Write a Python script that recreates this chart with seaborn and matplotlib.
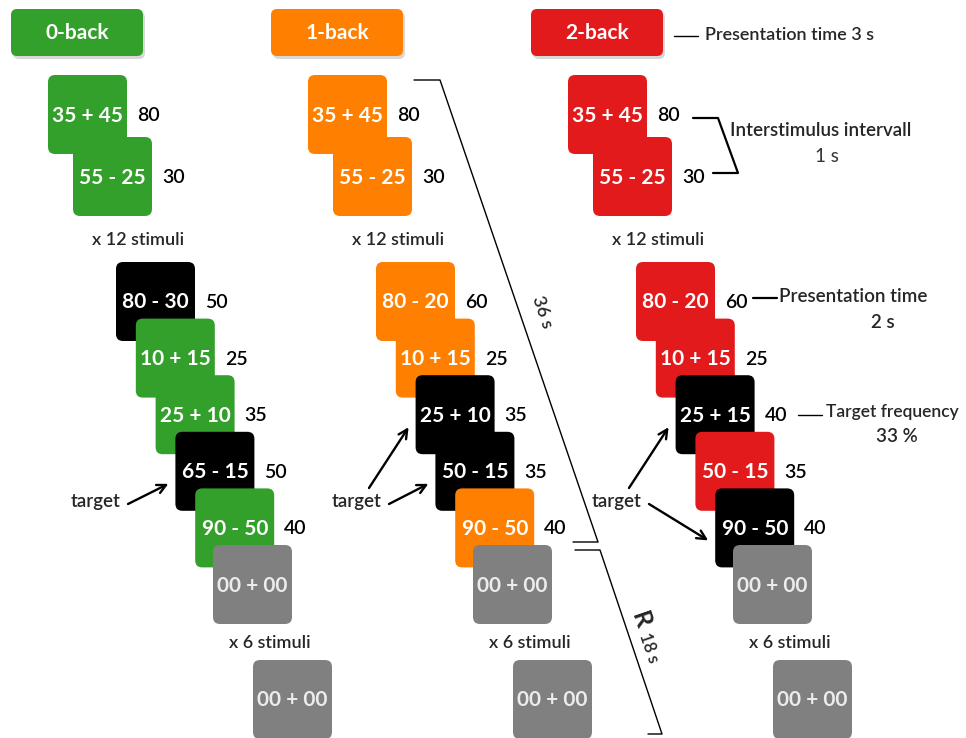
import matplotlib
matplotlib.use("Agg")
import matplotlib.pyplot as plt
import seaborn as sns
from matplotlib.patches import FancyBboxPatch

# task content
conditions = ["0-back", "1-back", "2-back"]
intro_stimuli = ["35 + 45", "55 - 25"]
intro_answers = ["80", "30"]
block_stimuli = [
    ["80 - 30", "10 + 15", "25 + 10", "65 - 15", "90 - 50"],
    ["80 - 20", "10 + 15", "25 + 10", "50 - 15", "90 - 50"],
    ["80 - 20", "10 + 15", "25 + 15", "50 - 15", "90 - 50"],
]
block_answers = [
    ["50", "25", "35", "50", "40"],
    ["60", "25", "35", "35", "40"],
    ["60", "25", "40", "35", "40"],
]
block_black = [
    [1, 0, 0, 1, 0],
    [0, 0, 1, 1, 0],
    [0, 0, 1, 0, 1],
]
target_cards = [[3], [2, 3], [2, 4]]
rest_stimulus = "00 + 00"
intro_count = "x 12 stimuli"
rest_count = "x 6 stimuli"

sns.set_theme(style="white")
plt.rcParams['font.family'] = ['Lato', 'DejaVu Sans']

palette = sns.color_palette("Paired")
cond_colors = [palette[3], palette[7], palette[5]]
gray = "#808080"

CARD = 79
COL = 260
W = "semibold"  # label weight (Calibri looks heavier than Lato regular)


def card(ax, x, y, color, label, answer=None, txt="white"):
    ax.add_patch(FancyBboxPatch((x, y), CARD, CARD,
                                boxstyle="round,pad=0,rounding_size=7",
                                fc=color, ec="none"))
    ax.text(x + CARD / 2, y + CARD / 2 + 1, label, color=txt, fontsize=15,
            fontweight="bold", ha="center", va="center")
    if answer is not None:
        ax.text(x + CARD + 10, y + CARD / 2 + 1, answer, color="black",
                fontsize=14, fontweight=W, ha="left", va="center")


fig = plt.figure(figsize=(9.66, 7.38), dpi=100)
ax = fig.add_axes([0, 0, 1, 1])
ax.set_xlim(0, 966)
ax.set_ylim(738, 0)
ax.axis("off")

for c, name in enumerate(conditions):
    x0 = c * COL
    col = cond_colors[c]

    # header box with a soft shadow
    ax.add_patch(FancyBboxPatch((x0 + 13, 12), 132, 47,
                                boxstyle="round,pad=0,rounding_size=6",
                                fc="#c8c8c8", ec="none", alpha=0.7))
    ax.add_patch(FancyBboxPatch((x0 + 11, 9), 132, 47,
                                boxstyle="round,pad=0,rounding_size=6",
                                fc=col, ec="none"))
    ax.text(x0 + 77, 33, name, color="white", fontsize=15, fontweight="bold",
            ha="center", va="center")

    # practice pair
    for i, (s, a) in enumerate(zip(intro_stimuli, intro_answers)):
        card(ax, x0 + 48 + 25 * i, 75 + 62 * i, col, s, a)
    ax.text(x0 + 138, 240, intro_count, fontsize=13, fontweight=W,
            ha="center", va="center")

    # block sequence
    for i, (s, a) in enumerate(zip(block_stimuli[c], block_answers[c])):
        fc = "black" if block_black[c][i] else col
        card(ax, x0 + 116 + 19.8 * i, 262 + 56.6 * i, fc, s, a)
    card(ax, x0 + 213, 545, gray, rest_stimulus, txt="#ececec")
    ax.text(x0 + 270, 643, rest_count, fontsize=13, fontweight=W,
            ha="center", va="center")
    card(ax, x0 + 253, 660, gray, rest_stimulus, txt="#ececec")

    # target arrows
    tx = x0 + 96 + (1 if c else 0)
    ax.text(tx, 502, "target", fontsize=13.5, fontweight=W,
            ha="center", va="center")
    for i in target_cards[c]:
        cx = x0 + 116 + 19.8 * i - 7
        cy = 262 + 56.6 * i + 52
        if cy < 470:
            start = (tx + 12, 488)
        else:
            start = (tx + 32, 504)
        ax.annotate("", xy=(cx, cy), xytext=start,
                    arrowprops=dict(arrowstyle="->", lw=1.7, color="black",
                                    mutation_scale=16, shrinkA=0, shrinkB=0))

# timing line for a block
ax.plot([414, 440, 598, 573], [80, 80, 542, 542], color="black", lw=1.0)
ax.plot([575, 600, 662, 648], [550, 550, 734, 734], color="black", lw=1.0)
ax.text(542, 312, "36 s", fontsize=13, fontweight=W, rotation=-71,
        ha="center", va="center")
ax.text(641, 620, "R", fontsize=18, fontweight="bold", rotation=-71,
        ha="center", va="center")
ax.text(649, 648, "18 s", fontsize=12, fontweight=W, rotation=-71,
        ha="center", va="center")

# annotations on the 2-back column
ax.plot([674, 698], [36, 36], color="black", lw=1.0)
ax.text(705, 35, "Presentation time 3 s", fontsize=13, fontweight=W,
        ha="left", va="center")

ax.plot([693, 718, 738, 713], [118, 118, 173, 173], color="black", lw=1.6)
ax.text(821, 131, "Interstimulus intervall", fontsize=13.5, fontweight=W,
        ha="center", va="center")
ax.text(827, 156, "1 s", fontsize=13.5, ha="center", va="center",
        color="#333333")

ax.plot([753, 777], [298, 298], color="black", lw=1.6)
ax.text(779, 297, "Presentation time", fontsize=13.5, fontweight=W,
        ha="left", va="center")
ax.text(883, 322, "2 s", fontsize=13.5, fontweight=W, ha="center", va="center")

ax.plot([798, 822], [415, 415], color="black", lw=1.0)
ax.text(826, 412, "Target frequency", fontsize=12.5, fontweight=W,
        ha="left", va="center")
ax.text(897, 436, "33 %", fontsize=13.5, fontweight=W, ha="center", va="center")

fig.savefig("out.png", dpi=100)
